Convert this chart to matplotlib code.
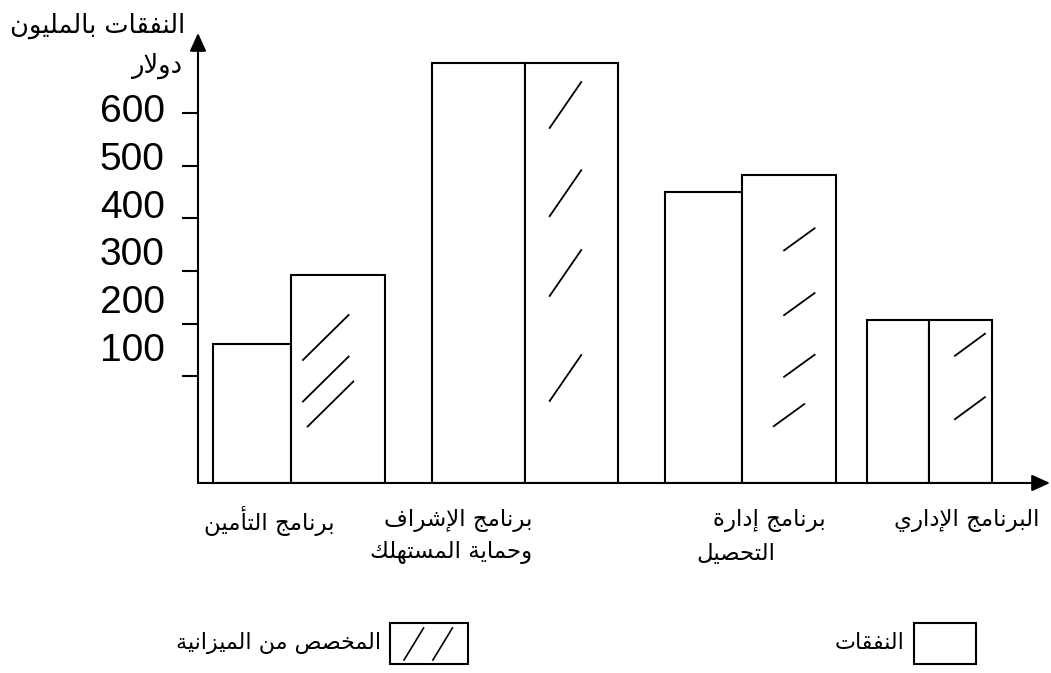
import numpy as np
import matplotlib
matplotlib.use("Agg")
import matplotlib.pyplot as plt
from matplotlib.patches import Rectangle
from matplotlib.lines import Line2D

# ---------------------------------------------------------------- data
programs = [
    ["برنامج التأمين"],
    ["برنامج الإشراف", "وحماية المستهلك"],
    ["برنامج إدارة", "التحصيل"],
    ["البرنامج الإداري"],
]
spending = np.array([162, 695, 450, 206])      # النفقات
allocated = np.array([292, 695, 483, 206])     # المخصص من الميزانية
tick_values = [100, 200, 300, 400, 500, 600]
tick_labels = ["100", "200", "300", "400", "500", "600"]
y_title = ["النفقات بالمليون", "دولار"]
legend_spending = "النفقات"
legend_allocated = "المخصص من الميزانية"

# ---------------------------------------------------------------- Arabic shaping
# (isolated, final, initial, medial) presentation forms
_FORMS = {
    "ا": ("\uFE8D", "\uFE8E", None, None),
    "أ": ("\uFE83", "\uFE84", None, None),
    "إ": ("\uFE87", "\uFE88", None, None),
    "آ": ("\uFE81", "\uFE82", None, None),
    "ب": ("\uFE8F", "\uFE90", "\uFE91", "\uFE92"),
    "ة": ("\uFE93", "\uFE94", None, None),
    "ت": ("\uFE95", "\uFE96", "\uFE97", "\uFE98"),
    "ج": ("\uFE9D", "\uFE9E", "\uFE9F", "\uFEA0"),
    "ح": ("\uFEA1", "\uFEA2", "\uFEA3", "\uFEA4"),
    "خ": ("\uFEA5", "\uFEA6", "\uFEA7", "\uFEA8"),
    "د": ("\uFEA9", "\uFEAA", None, None),
    "ر": ("\uFEAD", "\uFEAE", None, None),
    "ز": ("\uFEAF", "\uFEB0", None, None),
    "س": ("\uFEB1", "\uFEB2", "\uFEB3", "\uFEB4"),
    "ش": ("\uFEB5", "\uFEB6", "\uFEB7", "\uFEB8"),
    "ص": ("\uFEB9", "\uFEBA", "\uFEBB", "\uFEBC"),
    "ف": ("\uFED1", "\uFED2", "\uFED3", "\uFED4"),
    "ق": ("\uFED5", "\uFED6", "\uFED7", "\uFED8"),
    "ك": ("\uFED9", "\uFEDA", "\uFEDB", "\uFEDC"),
    "ل": ("\uFEDD", "\uFEDE", "\uFEDF", "\uFEE0"),
    "م": ("\uFEE1", "\uFEE2", "\uFEE3", "\uFEE4"),
    "ن": ("\uFEE5", "\uFEE6", "\uFEE7", "\uFEE8"),
    "ه": ("\uFEE9", "\uFEEA", "\uFEEB", "\uFEEC"),
    "و": ("\uFEED", "\uFEEE", None, None),
    "ي": ("\uFEF1", "\uFEF2", "\uFEF3", "\uFEF4"),
}
_LAM_ALEF = {
    "ا": ("\uFEFB", "\uFEFC"),
    "أ": ("\uFEF7", "\uFEF8"),
    "إ": ("\uFEF9", "\uFEFA"),
    "آ": ("\uFEF5", "\uFEF6"),
}


def _dual(c):
    return c in _FORMS and _FORMS[c][2] is not None


def shape(text):
    """Join Arabic letters into their contextual forms and lay them out right-to-left."""
    out = []
    i, n = 0, len(text)
    while i < n:
        c = text[i]
        if c not in _FORMS:
            out.append(c)
            i += 1
            continue
        joined_before = i > 0 and _dual(text[i - 1])
        if c == "ل" and i + 1 < n and text[i + 1] in _LAM_ALEF:
            iso, fin = _LAM_ALEF[text[i + 1]]
            out.append(fin if joined_before else iso)
            i += 2
            continue
        joined_after = _dual(c) and i + 1 < n and text[i + 1] in _FORMS
        iso, fin, ini, med = _FORMS[c]
        if joined_before and joined_after:
            out.append(med)
        elif joined_before:
            out.append(fin)
        elif joined_after:
            out.append(ini)
        else:
            out.append(iso)
        i += 1
    return "".join(reversed(out))


# ---------------------------------------------------------------- figure
W, H = 1051, 673
fig = plt.figure(figsize=(W / 100, H / 100), dpi=100)
fig.patch.set_facecolor("white")

AR = ["DejaVu Sans"]
LAT = ["Liberation Sans", "DejaVu Sans"]
LW = 1.5


def fx(px):
    return px / W


def fy(py):
    return 1 - py / H


# plot area: vertical axis at x=198 px, baseline at y=483 px, arrow tips at the far ends
ax_left, ax_right, ax_top, ax_base = 198, 1050, 33, 483
ax = fig.add_axes([fx(ax_left), fy(ax_base), fx(ax_right - ax_left), (ax_base - ax_top) / H])
ax.patch.set_alpha(0)

floor = -103          # level of the horizontal axis line
ax.set_ylim(floor, 752)
ax.set_xlim(0, ax_right - ax_left)

# bar layout along the horizontal axis
split = np.array([93, 327, 544, 731])
left_w = np.array([78, 93, 77, 62])
right_w = np.array([94, 93, 94, 63])

ax.bar(split - left_w, spending - floor, width=left_w, bottom=floor, align="edge",
       facecolor="white", edgecolor="black", linewidth=LW, zorder=2)
ax.bar(split, allocated - floor, width=right_w, bottom=floor, align="edge",
       facecolor="white", edgecolor="black", linewidth=LW, zorder=2)

# sparse diagonal strokes marking the allocated bars
# per bar: rise of each stroke (in value units), then (depth from top, x start, x end) as fractions
stroke_sets = [
    (88, [(0.30, 0.12, 0.62), (0.50, 0.12, 0.62), (0.62, 0.17, 0.67)]),
    (90, [(0.10, 0.26, 0.61), (0.31, 0.26, 0.61), (0.50, 0.26, 0.61), (0.75, 0.26, 0.61)]),
    (44, [(0.21, 0.44, 0.78), (0.42, 0.44, 0.78), (0.62, 0.44, 0.78), (0.78, 0.33, 0.67)]),
    (44, [(0.15, 0.40, 0.90), (0.54, 0.40, 0.90)]),
]
for x0, w, top, (rise, strokes) in zip(split, right_w, allocated, stroke_sets):
    span = top - floor
    for depth, a, b in strokes:
        yc = top - depth * span
        ax.plot([x0 + a * w, x0 + b * w], [yc - rise / 2, yc + rise / 2],
                color="black", lw=1.3, solid_capstyle="butt", zorder=3)

# axes with arrow heads
for s in ax.spines.values():
    s.set_visible(False)
arrow = dict(arrowstyle="-|>,head_length=0.55,head_width=0.25", color="black",
             lw=LW, mutation_scale=20, shrinkA=0, shrinkB=0)
ax.annotate("", xy=(0, 1), xytext=(0, 0), xycoords="axes fraction",
            textcoords="axes fraction", arrowprops=arrow, annotation_clip=False)
ax.annotate("", xy=(1, 0), xytext=(0, 0), xycoords="axes fraction",
            textcoords="axes fraction", arrowprops=arrow, annotation_clip=False)

# tick marks on the vertical axis; labels sit on their own evenly spaced rows
ax.set_yticks(tick_values, [""] * len(tick_values))
ax.tick_params(axis="y", which="major", direction="out", length=11.5, width=LW, color="black")
ax.set_yticks(np.linspace(155, 610, len(tick_labels)), tick_labels, minor=True)
ax.tick_params(axis="y", which="minor", length=0, pad=24, labelsize=28)
for lab in ax.get_yticklabels(minor=True):
    lab.set_fontfamily(LAT)
ax.set_xticks([])

# vertical axis title (two lines, right-aligned)
fig.text(fx(185), fy(26), shape(y_title[0]), ha="right", va="center", fontsize=18.5, family=AR)
fig.text(fx(182), fy(66), shape(y_title[1]), ha="right", va="center", fontsize=18.5, family=AR)

# program names under each pair of bars: (anchor x, alignment) per line
name_anchor = [
    [(335, "right")],
    [(532, "right"), (532, "right")],
    [(826, "right"), (696, "left")],
    [(1040, "right")],
]
for lines, anchors in zip(programs, name_anchor):
    for k, (line, (xa, ha)) in enumerate(zip(lines, anchors)):
        fig.text(fx(xa), fy(521 + 32 * k), shape(line), ha=ha, va="center",
                 fontsize=16.5, family=AR)

# legend at the bottom
def legend_key(x0, x1, hatched):
    fig.add_artist(Rectangle((fx(x0), fy(664)), fx(x1 - x0), (664 - 623) / H,
                             transform=fig.transFigure, facecolor="white",
                             edgecolor="black", lw=LW))
    if hatched:
        w = x1 - x0
        for a in (0.18, 0.55):
            fig.add_artist(Line2D([fx(x0 + a * w), fx(x0 + (a + 0.25) * w)],
                                  [fy(660), fy(628)], transform=fig.transFigure,
                                  color="black", lw=1.2))

legend_key(914, 976, False)
fig.text(fx(905), fy(643), shape(legend_spending), ha="right", va="center", fontsize=16, family=AR)
legend_key(390, 468, True)
fig.text(fx(381), fy(643), shape(legend_allocated), ha="right", va="center", fontsize=16, family=AR)

fig.savefig("out.png", dpi=100, facecolor="white")
